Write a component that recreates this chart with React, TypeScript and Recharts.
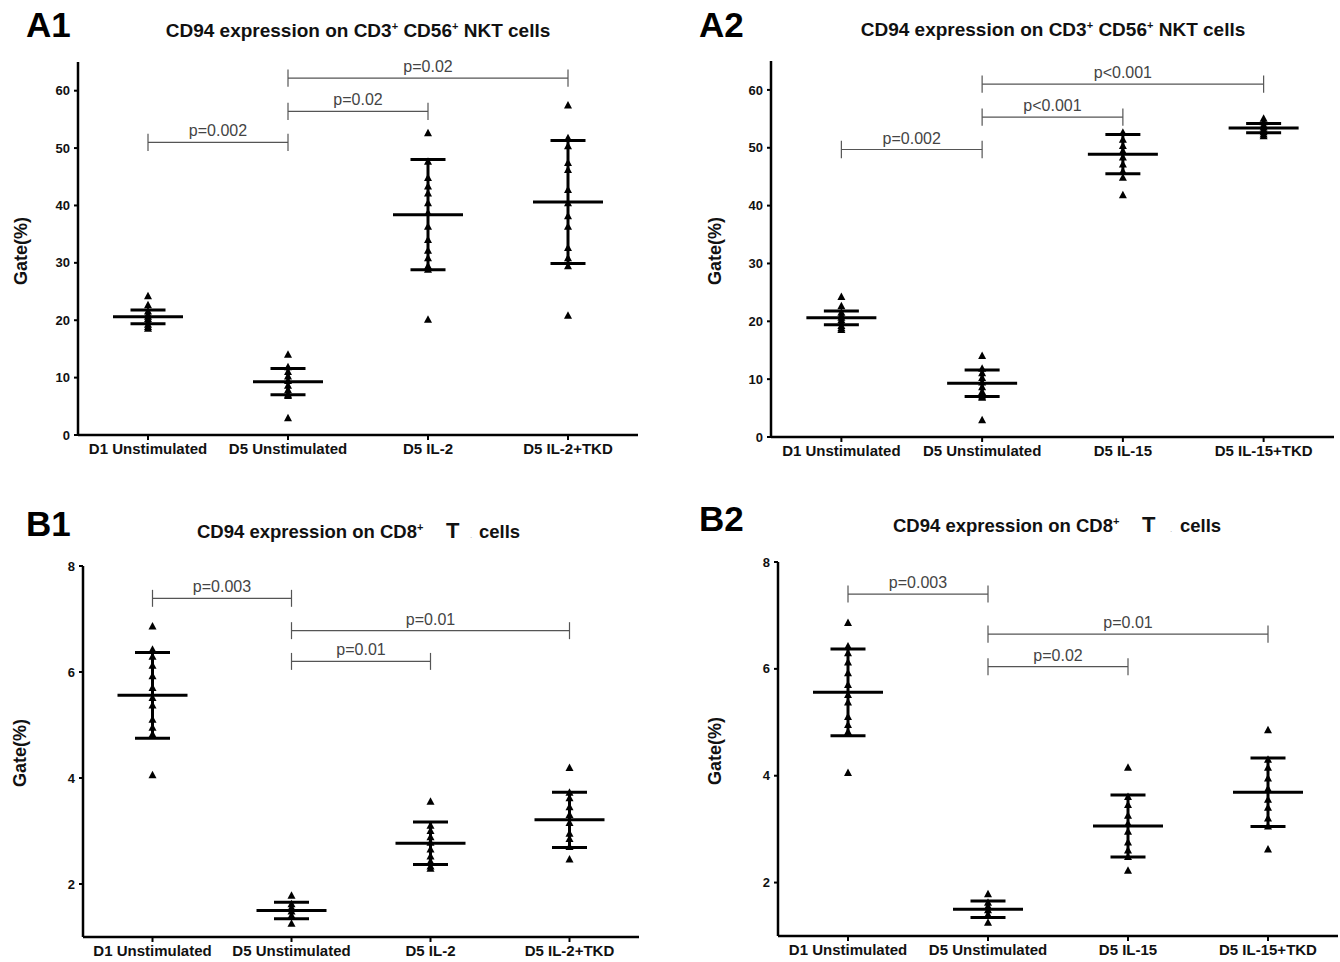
import React from 'react';
import { ScatterChart, Scatter, XAxis, YAxis, ErrorBar, ReferenceLine } from 'recharts';

// ---------- categories ----------
const categoriesIL2 = ['D1 Unstimulated', 'D5 Unstimulated', 'D5 IL-2', 'D5 IL-2+TKD'];
const categoriesIL15 = ['D1 Unstimulated', 'D5 Unstimulated', 'D5 IL-15', 'D5 IL-15+TKD'];

// ---------- NKT cells (panels A) ----------
const nktD1 = [24.2, 22.6, 21.5, 21.0, 20.6, 20.2, 19.7, 19.2, 18.8, 18.5];
const nktD5 = [14.0, 11.8, 11.0, 10.2, 9.4, 8.6, 7.8, 7.0, 6.8, 2.9];
const nktIL2 = [52.6, 47.6, 44.8, 43.3, 42.1, 40.4, 38.7, 36.3, 34.0, 32.1, 30.8, 29.4, 28.8, 20.1];
const nktIL2TKD = [57.4, 51.7, 50.3, 47.4, 46.2, 42.7, 40.4, 38.1, 36.3, 32.6, 30.8, 29.4, 20.8];
const nktIL15 = [52.6, 51.4, 50.3, 49.4, 48.3, 47.1, 45.9, 44.8, 41.8];
const nktIL15TKD = [55.0, 54.4, 53.9, 53.5, 53.1, 52.7, 52.3, 52.0];
const meansA1 = [20.6, 9.3, 38.4, 40.6];
const sdsA1 = [1.2, 2.3, 9.6, 10.7];
const meansA2 = [20.6, 9.3, 48.9, 53.4];
const sdsA2 = [1.2, 2.3, 3.4, 0.8];
const ticksA = [0, 10, 20, 30, 40, 50, 60];
const domainA: [number, number] = [0, 65];

// ---------- CD8 T cells (panels B) ----------
const cd8D1 = [6.86, 6.42, 6.29, 6.12, 5.92, 5.7, 5.51, 5.37, 5.1, 4.95, 4.82, 4.05];
const cd8D5 = [1.78, 1.62, 1.55, 1.48, 1.4, 1.25];
const cd8IL2 = [3.55, 3.1, 3.0, 2.88, 2.78, 2.65, 2.52, 2.42, 2.33, 2.29];
const cd8IL2TKD = [4.19, 3.72, 3.62, 3.45, 3.3, 3.15, 2.95, 2.85, 2.7, 2.46];
const cd8IL15 = [4.15, 3.6, 3.45, 3.25, 3.1, 2.95, 2.75, 2.6, 2.48, 2.22];
const cd8IL15TKD = [4.85, 4.3, 4.15, 3.95, 3.75, 3.55, 3.4, 3.2, 3.05, 2.62];
const meansB1 = [5.56, 1.5, 2.77, 3.21];
const sdsB1 = [0.81, 0.155, 0.4, 0.52];
const meansB2 = [5.56, 1.5, 3.06, 3.69];
const sdsB2 = [0.81, 0.155, 0.58, 0.64];
const ticksB = [2, 4, 6, 8];
const domainB: [number, number] = [1, 8];

// ---------- significance brackets ----------
const bracketsA1 = [
  { from: 1, to: 2, y: 51.0, label: 'p=0.002' },
  { from: 2, to: 3, y: 56.4, label: 'p=0.02' },
  { from: 2, to: 4, y: 62.2, label: 'p=0.02' },
];
const bracketsA2 = [
  { from: 1, to: 2, y: 49.7, label: 'p=0.002' },
  { from: 2, to: 3, y: 55.3, label: 'p<0.001' },
  { from: 2, to: 4, y: 61.0, label: 'p<0.001' },
];
const bracketsB1 = [
  { from: 1, to: 2, y: 7.39, label: 'p=0.003' },
  { from: 2, to: 3, y: 6.2, label: 'p=0.01' },
  { from: 2, to: 4, y: 6.78, label: 'p=0.01' },
];
const bracketsB2 = [
  { from: 1, to: 2, y: 7.4, label: 'p=0.003' },
  { from: 2, to: 3, y: 6.04, label: 'p=0.02' },
  { from: 2, to: 4, y: 6.65, label: 'p=0.01' },
];

const FONT = 'Arial, "Liberation Sans", Helvetica, sans-serif';

const Tri = (props: any) => {
  const { cx, cy } = props;
  if (cx == null || cy == null) return null;
  return <polygon points={`${cx},${cy - 4.5} ${cx - 4},${cy + 3} ${cx + 4},${cy + 3}`} fill="#000" />;
};

const MeanLine = (props: any) => {
  const { cx, cy } = props;
  if (cx == null || cy == null) return null;
  return <line x1={cx - 35} x2={cx + 35} y1={cy} y2={cy} stroke="#000" strokeWidth={3} />;
};

type PanelProps = {
  left: number;
  top: number;
  width: number;
  height: number;
  margin: { top: number; right: number; bottom: number; left: number };
  xAxisHeight: number;
  categories: string[];
  groups: number[][];
  means: number[];
  sds: number[];
  domain: [number, number];
  ticks: number[];
  brackets: { from: number; to: number; y: number; label: string }[];
  tickHalf: number;
};

function Panel(p: PanelProps) {
  const points = p.groups.flatMap((g, i) => g.map((v) => ({ x: i + 1, y: v })));
  const summary = p.means.map((m, i) => ({ x: i + 1, y: m, sd: p.sds[i] }));
  const bstroke = '#555';
  return (
    <div style={{ position: 'absolute', left: p.left, top: p.top }}>
      <ScatterChart width={p.width} height={p.height} margin={p.margin}>
        <XAxis
          type="number"
          dataKey="x"
          domain={[0.5, 4.5]}
          ticks={[1, 2, 3, 4]}
          interval={0}
          height={p.xAxisHeight}
          tickFormatter={(v: number) => p.categories[v - 1]}
          tick={{ fill: '#111', fontSize: 15, fontWeight: 'bold', fontFamily: FONT }}
          axisLine={{ stroke: '#000', strokeWidth: 2.5 }}
          tickLine={{ stroke: '#000', strokeWidth: 2 }}
          tickSize={5}
          tickMargin={3}
        />
        <YAxis
          type="number"
          dataKey="y"
          domain={p.domain}
          ticks={p.ticks}
          width={30}
          interval={0}
          tick={{ fill: '#111', fontSize: 13, fontWeight: 'bold', fontFamily: FONT }}
          axisLine={{ stroke: '#000', strokeWidth: 2.5 }}
          tickLine={{ stroke: '#000', strokeWidth: 2 }}
          tickSize={4}
          tickMargin={4}
        />
        {p.brackets.map((b, i) => (
          <ReferenceLine
            key={`h${i}`}
            segment={[{ x: b.from, y: b.y }, { x: b.to, y: b.y }]}
            stroke={bstroke}
            strokeWidth={1.2}
            ifOverflow="visible"
            label={{ value: b.label, position: 'top', offset: 6, fill: '#444', fontSize: 16, fontFamily: FONT }}
          />
        ))}
        {p.brackets.map((b, i) => (
          <ReferenceLine
            key={`l${i}`}
            segment={[{ x: b.from, y: b.y - p.tickHalf }, { x: b.from, y: b.y + p.tickHalf }]}
            stroke={bstroke}
            strokeWidth={1.2}
            ifOverflow="visible"
          />
        ))}
        {p.brackets.map((b, i) => (
          <ReferenceLine
            key={`r${i}`}
            segment={[{ x: b.to, y: b.y - p.tickHalf }, { x: b.to, y: b.y + p.tickHalf }]}
            stroke={bstroke}
            strokeWidth={1.2}
            ifOverflow="visible"
          />
        ))}
        <Scatter data={summary} shape={MeanLine} isAnimationActive={false}>
          <ErrorBar dataKey="sd" direction="y" width={17.5} stroke="#000" strokeWidth={3} isAnimationActive={false} />
        </Scatter>
        <Scatter data={points} shape={Tri} isAnimationActive={false} />
      </ScatterChart>
    </div>
  );
}

const Sup = ({ children }: { children: React.ReactNode }) => (
  <tspan dy={-7} fontSize={11}>
    {children}
  </tspan>
);

export default function App() {
  return (
    <div style={{ position: 'absolute', left: 0, top: 0, width: 1340, height: 962, background: '#fff', overflow: 'hidden' }}>
      <Panel
        left={0}
        top={0}
        width={670}
        height={480}
        margin={{ top: 62, right: 32, bottom: 15, left: 48 }}
        xAxisHeight={30}
        categories={categoriesIL2}
        groups={[nktD1, nktD5, nktIL2, nktIL2TKD]}
        means={meansA1}
        sds={sdsA1}
        domain={domainA}
        ticks={ticksA}
        brackets={bracketsA1}
        tickHalf={1.5}
      />
      <Panel
        left={670}
        top={0}
        width={670}
        height={480}
        margin={{ top: 61, right: 6, bottom: 13, left: 71 }}
        xAxisHeight={30}
        categories={categoriesIL15}
        groups={[nktD1, nktD5, nktIL15, nktIL15TKD]}
        means={meansA2}
        sds={sdsA2}
        domain={domainA}
        ticks={ticksA}
        brackets={bracketsA2}
        tickHalf={1.5}
      />
      <Panel
        left={0}
        top={490}
        width={670}
        height={472}
        margin={{ top: 76, right: 31, bottom: 0, left: 53 }}
        xAxisHeight={25}
        categories={categoriesIL2}
        groups={[cd8D1, cd8D5, cd8IL2, cd8IL2TKD]}
        means={meansB1}
        sds={sdsB1}
        domain={domainB}
        ticks={ticksB}
        brackets={bracketsB1}
        tickHalf={0.16}
      />
      <Panel
        left={670}
        top={490}
        width={670}
        height={472}
        margin={{ top: 72, right: 2, bottom: 0, left: 78 }}
        xAxisHeight={26}
        categories={categoriesIL15}
        groups={[cd8D1, cd8D5, cd8IL15, cd8IL15TKD]}
        means={meansB2}
        sds={sdsB2}
        domain={domainB}
        ticks={ticksB}
        brackets={bracketsB2}
        tickHalf={0.16}
      />
      <svg
        width={1340}
        height={962}
        style={{ position: 'absolute', left: 0, top: 0, pointerEvents: 'none' }}
        fontFamily={FONT}
      >
        {/* panel letters */}
        <text x={26} y={37} fontSize={35} fontWeight="bold" fill="#000">A1</text>
        <text x={699} y={37} fontSize={35} fontWeight="bold" fill="#000">A2</text>
        <text x={26} y={536} fontSize={35} fontWeight="bold" fill="#000">B1</text>
        <text x={699} y={531} fontSize={35} fontWeight="bold" fill="#000">B2</text>

        {/* titles */}
        <text x={358} y={37} fontSize={19} fontWeight="bold" textAnchor="middle" fill="#111">
          CD94 expression on CD3<Sup>+</Sup>
          <tspan dy={7}> CD56</tspan>
          <Sup>+</Sup>
          <tspan dy={7}> NKT cells</tspan>
        </text>
        <text x={1053} y={36} fontSize={19} fontWeight="bold" textAnchor="middle" fill="#111">
          CD94 expression on CD3<Sup>+</Sup>
          <tspan dy={7}> CD56</tspan>
          <Sup>+</Sup>
          <tspan dy={7}> NKT cells</tspan>
        </text>
        <text x={197} y={538} fontSize={18.5} fontWeight="bold" fill="#111">
          CD94 expression on CD8<Sup>+</Sup>
        </text>
        <text x={446} y={538} fontSize={22} fontWeight="bold" fill="#111">T</text>
        <text x={470} y={538} fontSize={8} fill="#aaa">.</text>
        <text x={479} y={538} fontSize={18.5} fontWeight="bold" fill="#111">cells</text>

        <text x={893} y={532} fontSize={18.5} fontWeight="bold" fill="#111">
          CD94 expression on CD8<Sup>+</Sup>
        </text>
        <text x={1142} y={532} fontSize={22} fontWeight="bold" fill="#111">T</text>
        <text x={1170} y={532} fontSize={8} fill="#aaa">.</text>
        <text x={1180} y={532} fontSize={18.5} fontWeight="bold" fill="#111">cells</text>

        {/* y-axis labels */}
        <text transform="translate(27,251) rotate(-90)" fontSize={18} fontWeight="bold" textAnchor="middle" fill="#111">Gate(%)</text>
        <text transform="translate(721,251) rotate(-90)" fontSize={18} fontWeight="bold" textAnchor="middle" fill="#111">Gate(%)</text>
        <text transform="translate(26,753) rotate(-90)" fontSize={18} fontWeight="bold" textAnchor="middle" fill="#111">Gate(%)</text>
        <text transform="translate(721,751) rotate(-90)" fontSize={18} fontWeight="bold" textAnchor="middle" fill="#111">Gate(%)</text>
      </svg>
    </div>
  );
}
